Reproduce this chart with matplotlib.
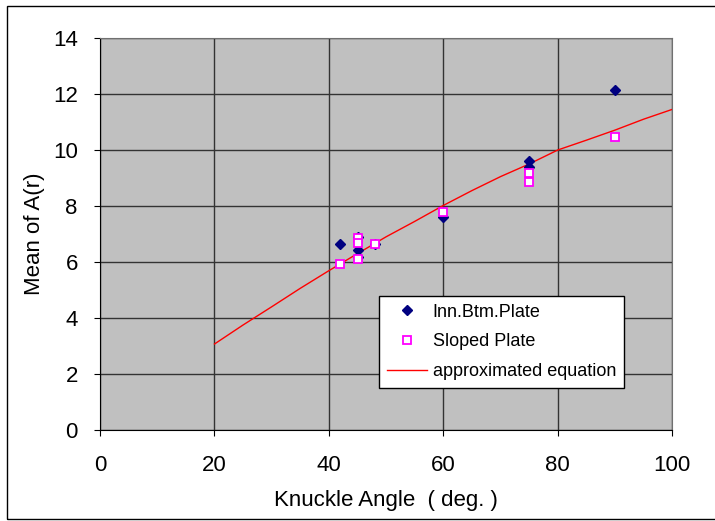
import matplotlib.pyplot as plt
from matplotlib.patches import Rectangle

# Inn.Btm.Plate (diamonds)
inn_x = [42, 45, 45, 45, 48, 60, 75, 75, 90]
inn_y = [6.63, 6.9, 6.43, 6.18, 6.63, 7.62, 9.62, 9.4, 12.14]

# Sloped Plate (open squares)
slope_x = [42, 45, 45, 45, 48, 60, 75, 75, 90]
slope_y = [5.93, 6.85, 6.69, 6.1, 6.64, 7.79, 9.17, 8.86, 10.46]

# approximated equation
eq_x = [20, 25, 30, 35, 40, 45, 50, 55, 60, 65, 70, 75, 80, 85, 90, 95, 100]
eq_y = [3.07, 3.75, 4.4, 5.06, 5.69, 6.3, 6.9, 7.45, 8.02, 8.55, 9.05, 9.5,
        10.0, 10.35, 10.71, 11.1, 11.45]

x_ticks = [0, 20, 40, 60, 80, 100]
y_ticks = [0, 2, 4, 6, 8, 10, 12, 14]

plt.rcParams['font.family'] = ['Liberation Sans', 'DejaVu Sans']

fig = plt.figure(figsize=(7.15, 5.21), dpi=100)
ax = fig.add_axes([0.1399, 0.1747, 0.8003, 0.7524])
ax.set_facecolor('#C0C0C0')

ax.plot(inn_x, inn_y, linestyle='none', marker='D', markersize=5.5,
        color='#000080', label='Inn.Btm.Plate', zorder=3)
ax.plot(slope_x, slope_y, linestyle='none', marker='s', markersize=6,
        markerfacecolor='white', markeredgecolor='#FF00FF', markeredgewidth=1.3,
        label='Sloped Plate', zorder=4)
ax.plot(eq_x, eq_y, color='red', linewidth=1, label='approximated equation', zorder=2)

ax.set_xlim(0, 100)
ax.set_ylim(0, 14)
ax.set_xticks(x_ticks)
ax.set_yticks(y_ticks)
ax.grid(True, color='#333333', linewidth=1)
ax.set_axisbelow(True)
ax.tick_params(labelsize=16, length=4, direction='out')
ax.tick_params(axis='x', pad=14)
ax.tick_params(axis='y', pad=12)

for side in ['top', 'right']:
    ax.spines[side].set_color('#707070')
for side in ['left', 'bottom']:
    ax.spines[side].set_color('black')

ax.set_xlabel('Knuckle Angle  ( deg. )', fontsize=16, labelpad=10)
ax.set_ylabel('Mean of A(r)', fontsize=16, labelpad=6)

leg = ax.legend(loc='lower left', bbox_to_anchor=(0.488, 0.107), fontsize=13,
                frameon=True, fancybox=False, framealpha=1, edgecolor='black',
                borderpad=0.45, labelspacing=0.7, handlelength=2.2,
                handletextpad=0.3, borderaxespad=0)
leg.get_frame().set_linewidth(1)

# outer border around the chart
fig.patches.append(Rectangle((7 / 715, 2 / 521), 1.0, 513 / 521, transform=fig.transFigure,
                             fill=False, edgecolor='black', linewidth=1))

fig.savefig('out.png', dpi=100)
